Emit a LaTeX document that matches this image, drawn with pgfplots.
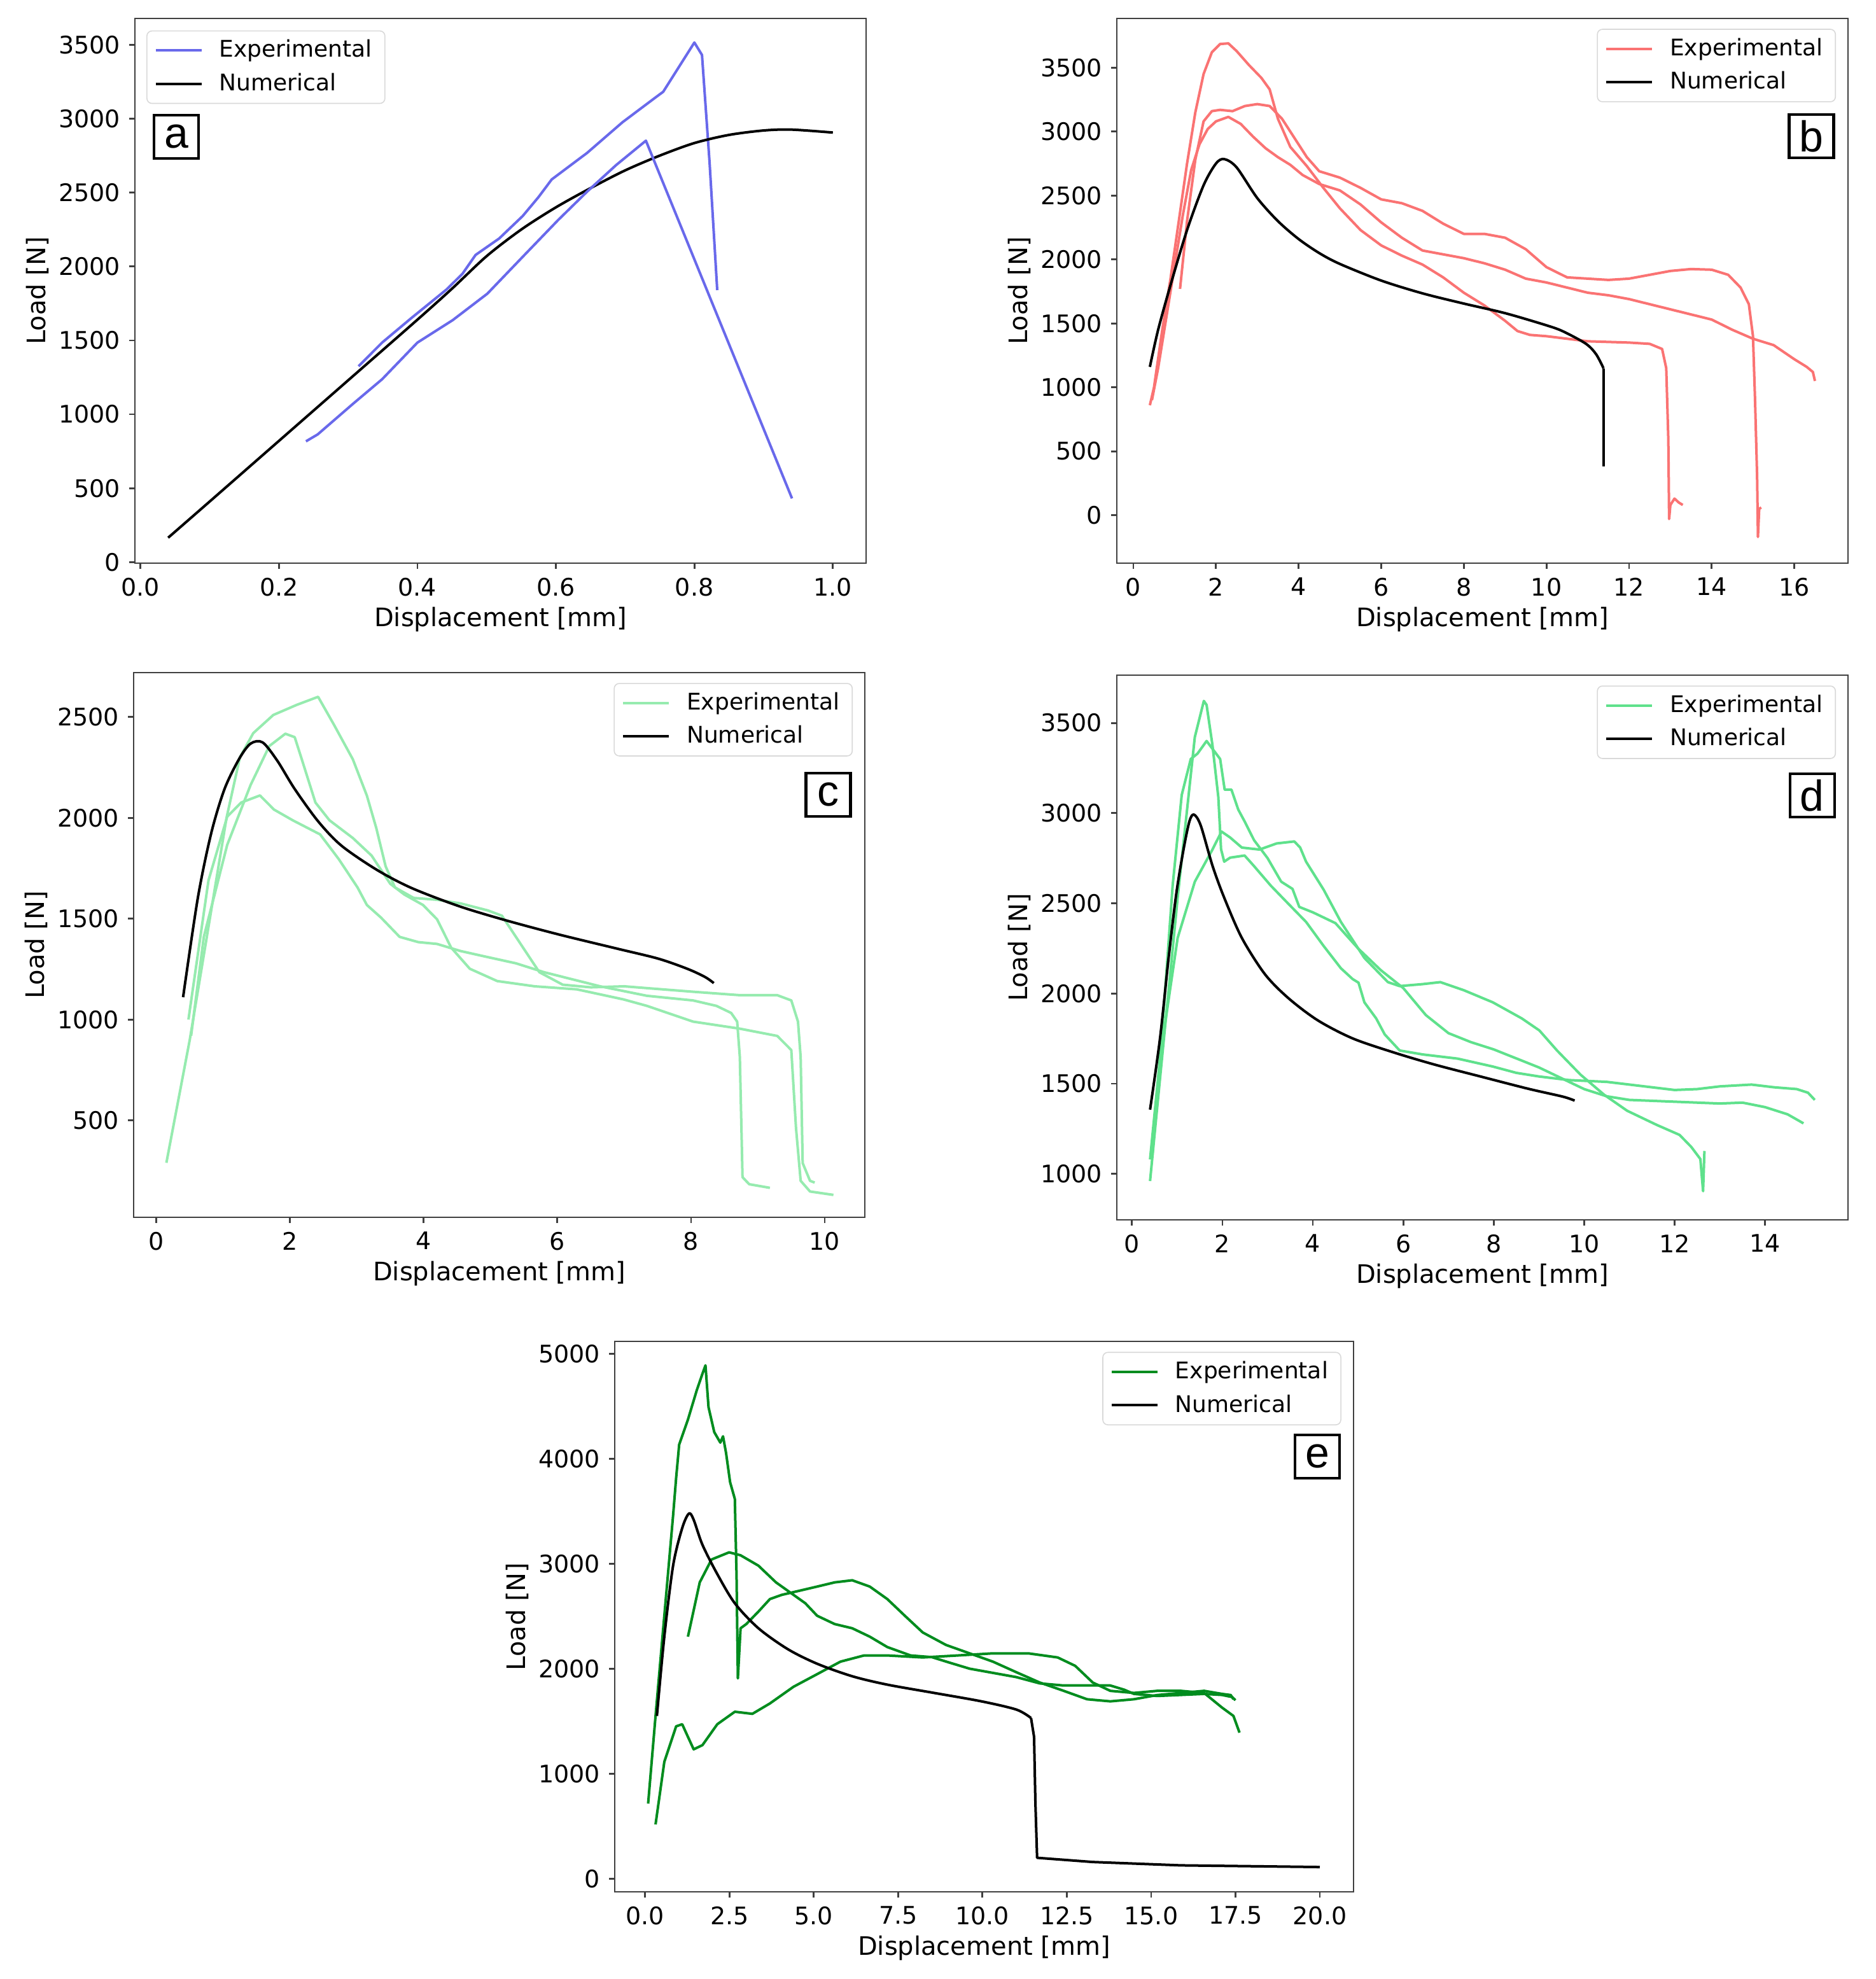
\documentclass[border=0pt]{standalone}
\usepackage{fontspec}
\setmainfont{DejaVu Sans}
\newfontfamily\labelfont{Liberation Sans}
\usepackage{pgfplots}
\pgfplotsset{compat=1.18}
\definecolor{cA}{RGB}{105,105,235}
\definecolor{cB}{RGB}{250,115,115}
\definecolor{cC}{RGB}{150,235,175}
\definecolor{cD}{RGB}{95,225,140}
\definecolor{cE}{RGB}{0,140,30}
\pgfplotsset{
  panel/.style={
    scale only axis, width=287.25pt, height=214pt,
    axis line style={black!75, line width=0.7pt},
    every tick/.style={black!75, line width=0.7pt},
    tick align=outside, major tick length=2.2pt,
    xtick pos=left, ytick pos=left,
    ticklabel style={font=\fontsize{9.5}{11}\selectfont},
    label style={font=\fontsize{10}{12}\selectfont},
    xlabel={Displacement [mm]}, ylabel={Load [N]},
    ylabel shift=-3pt, xlabel shift=-2.5pt,
    /pgf/number format/assume math mode=true,
    /pgf/number format/1000 sep={},
    legend cell align=left,
    legend style={draw=black!15, rounded corners=2pt, fill=white, fill opacity=0.8, text opacity=1,
      font=\fontsize{9}{10}\selectfont, inner xsep=3pt, inner ysep=1.5pt, row sep=0.8pt, column sep=4.5pt},
    legend image code/.code={\draw[##1] (0pt,0pt) -- (18pt,0pt);},
    every axis plot/.append style={line width=1pt, line join=round},
  },
  legNW/.style={legend style={at={(rel axis cs:0.0157,0.978)}, anchor=north west}},
  legNE/.style={legend style={at={(rel axis cs:0.9835,0.981)}, anchor=north east}},
}
\newcommand{\panellabel}[2]{\node[draw=black, line width=1.1pt, minimum width=17.5pt, minimum height=17pt, inner sep=0pt, font=\labelfont\fontsize{17}{17}\selectfont] at (rel axis cs:#1) {#2};}
\begin{document}
\begin{tikzpicture}
\path[use as bounding box] (0,0) rectangle (737pt,777.5pt);
% ---------------- a ----------------
\begin{axis}[panel, legNW, at={(53pt,556.25pt)}, anchor=south west,
  xmin=-0.008, xmax=1.048, ymin=-7, ymax=3678,
  xtick={0,0.2,0.4,0.6,0.8,1.0}, ytick={0,500,1000,1500,2000,2500,3000,3500},
  xticklabel style={/pgf/number format/.cd, fixed, fixed zerofill, precision=1}]
\addplot[cA] coordinates {(0.315,1325)(0.349,1485)(0.391,1650)(0.442,1844)(0.465,1950)(0.484,2078)(0.518,2189)(0.552,2341)(0.575,2470)(0.594,2589)(0.645,2768)(0.696,2975)(0.74,3130)(0.755,3182)(0.80,3515)(0.811,3431)(0.822,2700)(0.833,1840)};
\addlegendentry{Experimental}
\addplot[black, forget plot, smooth, tension=0.5] coordinates {(0.04,165)(0.1,410)(0.2,820)(0.3,1230)(0.4,1640)(0.45,1850)(0.5,2070)(0.55,2250)(0.6,2400)(0.65,2530)(0.7,2650)(0.75,2750)(0.8,2835)(0.85,2890)(0.9,2920)(0.94,2926)(1.0,2906)};
\addplot[cA, forget plot] coordinates {(0.239,817)(0.256,864)(0.307,1071)(0.349,1237)(0.40,1485)(0.451,1637)(0.501,1816)(0.552,2065)(0.603,2313)(0.645,2506)(0.687,2686)(0.73,2851)(0.941,431)};
\addlegendimage{black, line width=1pt}
\addlegendentry{Numerical}
\panellabel{0.0566,0.783}{a}
\end{axis}
% ---------------- b ----------------
\begin{axis}[panel, legNE, at={(438.75pt,556.25pt)}, anchor=south west,
  xmin=-0.4, xmax=17.3, ymin=-375, ymax=3885,
  xtick={0,2,...,16}, ytick={0,500,1000,1500,2000,2500,3000,3500}]
\addplot[cB] coordinates {(0.4,860)(0.5,1000)(0.7,1450)(0.9,1850)(1.1,2300)(1.3,2750)(1.5,3150)(1.7,3450)(1.9,3620)(2.1,3685)(2.3,3690)(2.5,3630)(2.8,3520)(3.1,3420)(3.3,3330)(3.5,3100)(3.8,2880)(4.2,2730)(4.6,2560)(5.0,2400)(5.5,2230)(6.0,2110)(6.5,2030)(7.0,1960)(7.5,1860)(8.0,1740)(8.5,1640)(9.0,1520)(9.3,1440)(9.6,1410)(10,1400)(10.5,1380)(11,1360)(11.5,1355)(12,1350)(12.5,1340)(12.8,1300)(12.9,1150)(12.95,600)(12.97,-30)(13.0,80)(13.1,130)(13.2,100)(13.3,80)};
\addlegendentry{Experimental}
\addplot[cB, forget plot] coordinates {(1.13,1770)(1.3,2300)(1.5,2780)(1.7,3080)(1.9,3160)(2.1,3170)(2.4,3160)(2.7,3200)(3.0,3215)(3.3,3200)(3.6,3100)(3.9,2950)(4.2,2800)(4.5,2690)(5.0,2640)(5.5,2560)(6.0,2470)(6.5,2440)(7.0,2380)(7.5,2280)(8.0,2200)(8.5,2200)(9.0,2170)(9.5,2080)(10.0,1940)(10.5,1860)(11.0,1850)(11.5,1840)(12.0,1850)(12.5,1880)(13.0,1910)(13.5,1925)(14.0,1920)(14.4,1880)(14.7,1780)(14.9,1650)(15.0,1400)(15.05,900)(15.1,300)(15.12,-170)(15.15,50)(15.2,60)};
\addplot[cB, forget plot] coordinates {(0.45,900)(0.6,1150)(0.8,1550)(1.0,1950)(1.2,2350)(1.4,2700)(1.6,2900)(1.8,3020)(2.0,3080)(2.3,3115)(2.6,3060)(2.9,2960)(3.2,2870)(3.5,2800)(3.8,2740)(4.1,2660)(4.5,2590)(5.0,2540)(5.5,2430)(6.0,2290)(6.5,2170)(7.0,2070)(7.5,2040)(8.0,2010)(8.5,1970)(9.0,1920)(9.5,1850)(10,1820)(10.5,1780)(11,1740)(11.5,1720)(12,1690)(12.5,1650)(13,1610)(13.5,1570)(14,1530)(14.5,1450)(15,1380)(15.5,1330)(16,1220)(16.3,1160)(16.45,1120)(16.5,1050)};
\addplot[black, forget plot, smooth, tension=0.5] coordinates {(0.4,1160)(0.6,1450)(0.9,1800)(1.3,2230)(1.7,2580)(2.0,2750)(2.2,2785)(2.5,2720)(3.0,2480)(3.5,2300)(4.0,2160)(4.5,2050)(5.0,1965)(6,1835)(7,1735)(8,1655)(9,1580)(10,1485)(10.4,1438)(10.95,1342)(11.2,1260)(11.38,1150)};
\addplot[black, forget plot] coordinates {(11.38,1150)(11.38,380)};
\addlegendimage{black, line width=1pt}
\addlegendentry{Numerical}
\panellabel{0.950,0.784}{b}
\end{axis}
% ---------------- c ----------------
\begin{axis}[panel, legNE, at={(52.5pt,299.25pt)}, anchor=south west,
  xmin=-0.34, xmax=10.6, ymin=20, ymax=2720,
  xtick={0,2,...,10}, ytick={500,1000,1500,2000,2500}]
\addplot[cC] coordinates {(0.15,290)(0.5,900)(0.8,1500)(1.05,2000)(1.25,2300)(1.45,2420)(1.75,2510)(2.1,2560)(2.42,2600)(2.66,2460)(2.94,2290)(3.15,2110)(3.29,1950)(3.43,1760)(3.57,1655)(3.85,1603)(4.2,1594)(4.55,1576)(4.96,1541)(5.17,1515)(5.45,1375)(5.73,1235)(6.08,1173)(6.5,1160)(7.0,1165)(7.34,1156)(8.03,1138)(8.73,1121)(9.29,1121)(9.5,1095)(9.6,990)(9.64,814)(9.67,289)(9.78,201)(9.85,192)};
\addlegendentry{Experimental}
\addplot[cC, forget plot] coordinates {(0.52,920)(0.71,1410)(1.06,1866)(1.41,2163)(1.69,2356)(1.93,2417)(2.07,2400)(2.18,2286)(2.38,2076)(2.59,1988)(2.94,1900)(3.22,1813)(3.5,1673)(3.71,1620)(3.99,1568)(4.2,1497)(4.41,1357)(4.69,1252)(5.1,1191)(5.66,1165)(6.29,1150)(6.99,1100)(7.34,1068)(8.03,990)(8.73,955)(9.29,919)(9.5,849)(9.57,464)(9.64,201)(9.78,148)(10.13,131)};
\addplot[cC, forget plot] coordinates {(0.48,1000)(0.78,1690)(1.06,2006)(1.27,2076)(1.55,2111)(1.76,2041)(2.04,1988)(2.45,1918)(2.73,1795)(3.01,1655)(3.15,1568)(3.36,1506)(3.64,1410)(3.92,1384)(4.2,1375)(4.55,1340)(4.9,1314)(5.38,1279)(5.8,1235)(6.22,1200)(6.64,1165)(7.34,1118)(8.03,1095)(8.38,1068)(8.6,1033)(8.69,990)(8.73,814)(8.77,219)(8.87,184)(9.18,166)};
\addplot[black, forget plot, smooth, tension=0.5] coordinates {(0.40,1111)(0.62,1602)(0.82,1923)(1.02,2143)(1.24,2293)(1.41,2368)(1.59,2374)(1.81,2283)(2.07,2143)(2.42,1983)(2.77,1862)(3.30,1742)(3.82,1652)(4.53,1562)(5.23,1492)(6.02,1422)(6.89,1352)(7.51,1302)(7.95,1251)(8.21,1211)(8.34,1181)};
\addlegendimage{black, line width=1pt}
\addlegendentry{Numerical}
\panellabel{0.950,0.776}{c}
\end{axis}
% ---------------- d ----------------
\begin{axis}[panel, legNE, at={(438.75pt,298.25pt)}, anchor=south west,
  xmin=-0.335, xmax=15.835, ymin=745, ymax=3765,
  xtick={0,2,...,14}, ytick={1000,1500,2000,2500,3000,3500}]
\addplot[cD] coordinates {(0.4,960)(0.49,1194)(0.75,1862)(1.01,2531)(1.2,2976)(1.39,3422)(1.59,3622)(1.65,3600)(1.78,3377)(1.91,3088)(1.97,2800)(2.04,2731)(2.17,2753)(2.49,2765)(2.69,2709)(3.07,2598)(3.46,2497)(3.85,2397)(4.24,2263)(4.62,2140)(4.88,2080)(5.01,2060)(5.14,1951)(5.4,1862)(5.59,1773)(5.92,1684)(6.43,1662)(7.2,1639)(7.98,1595)(8.5,1560)(9,1540)(9.66,1520)(10.5,1510)(11.5,1480)(12,1465)(12.5,1470)(13,1485)(13.7,1495)(14.2,1480)(14.7,1470)(14.95,1450)(15.1,1410)};
\addlegendentry{Experimental}
\addplot[cD, forget plot] coordinates {(0.45,1100)(0.7,1900)(0.9,2600)(1.1,3100)(1.3,3300)(1.45,3330)(1.65,3400)(1.8,3350)(1.95,3300)(2.05,3130)(2.2,3130)(2.35,3020)(2.5,2950)(2.7,2850)(3.0,2750)(3.3,2620)(3.55,2580)(3.7,2480)(4.0,2450)(4.5,2390)(5.0,2250)(5.5,2130)(6.0,2030)(6.5,1880)(7.0,1780)(7.5,1730)(8.0,1690)(8.5,1640)(9,1590)(9.5,1530)(10,1470)(10.5,1430)(11,1410)(12,1400)(13,1390)(13.5,1395)(14,1370)(14.5,1330)(14.85,1280)};
\addplot[cD, forget plot] coordinates {(0.4,1080)(0.62,1640)(1.01,2308)(1.39,2620)(1.78,2798)(1.98,2898)(2.17,2865)(2.43,2809)(2.82,2798)(3.2,2832)(3.59,2843)(3.72,2809)(3.85,2731)(4.24,2575)(4.62,2397)(5.14,2197)(5.66,2063)(5.92,2041)(6.43,2052)(6.82,2063)(7.34,2018)(7.98,1951)(8.62,1862)(9.01,1795)(9.4,1684)(9.92,1550)(10.44,1439)(10.95,1350)(11.6,1272)(12.11,1216)(12.37,1149)(12.57,1082)(12.63,904)(12.66,1127)};
\addplot[black, forget plot, smooth, tension=0.5] coordinates {(0.40,1356)(0.62,1751)(0.81,2197)(0.98,2553)(1.14,2798)(1.27,2954)(1.37,2992)(1.52,2932)(1.78,2709)(2.04,2531)(2.43,2308)(2.94,2107)(3.46,1974)(4.11,1851)(4.88,1751)(5.79,1673)(6.69,1606)(7.72,1539)(8.76,1472)(9.53,1428)(9.79,1406)};
\addlegendimage{black, line width=1pt}
\addlegendentry{Numerical}
\panellabel{0.951,0.779}{d}
\end{axis}
% ---------------- e ----------------
\begin{axis}[panel, legNE, at={(241.5pt,34.25pt)}, anchor=south west, width=290.25pt, height=216.25pt,
  xmin=-0.9, xmax=21.0, ymin=-125, ymax=5117,
  xtick={0,2.5,5,7.5,10,12.5,15,17.5,20}, ytick={0,1000,2000,3000,4000,5000},
  xticklabel style={/pgf/number format/.cd, fixed, fixed zerofill, precision=1}]
\addplot[cE] coordinates {(0.09,715)(0.31,1550)(0.57,2504)(0.83,3458)(0.92,3816)(1.01,4134)(1.27,4372)(1.53,4650)(1.70,4809)(1.79,4889)(1.88,4491)(2.05,4253)(2.23,4153)(2.31,4213)(2.4,4054)(2.52,3776)(2.66,3617)(2.71,2901)(2.75,1908)(2.83,2385)(3.0,2425)(3.36,2544)(3.70,2663)(4.05,2703)(4.57,2742)(5.1,2782)(5.62,2822)(6.14,2842)(6.66,2782)(7.18,2663)(7.7,2504)(8.23,2345)(8.92,2226)(9.62,2146)(10.31,2067)(11.0,1967)(11.7,1868)(12.4,1790)(13.1,1709)(13.79,1689)(14.49,1709)(15.18,1749)(15.88,1769)(16.57,1789)(17.1,1760)(17.36,1749)(17.44,1709)};
\addlegendentry{Experimental}
\addplot[cE, forget plot] coordinates {(1.27,2305)(1.62,2822)(1.97,3040)(2.49,3108)(2.83,3080)(3.36,2981)(3.88,2822)(4.40,2703)(4.75,2623)(5.1,2504)(5.62,2425)(6.14,2385)(6.66,2305)(7.18,2206)(7.87,2126)(8.5,2110)(9.0,2060)(9.62,2000)(10.31,1960)(11.0,1920)(11.7,1860)(12.4,1840)(13.1,1840)(13.79,1840)(14.2,1800)(14.49,1760)(15.18,1740)(15.88,1750)(16.57,1760)(17.1,1750)(17.4,1730)(17.5,1700)};
\addplot[cE, forget plot] coordinates {(0.31,517)(0.57,1113)(0.92,1451)(1.10,1471)(1.27,1351)(1.44,1232)(1.70,1272)(2.14,1471)(2.66,1590)(3.18,1570)(3.70,1669)(4.40,1828)(5.1,1948)(5.79,2067)(6.49,2126)(7.18,2126)(8.23,2107)(9.27,2126)(10.31,2146)(11.36,2146)(12.23,2107)(12.75,2027)(13.27,1868)(13.79,1789)(14.49,1769)(15.18,1789)(15.88,1789)(16.57,1769)(17.1,1630)(17.44,1550)(17.62,1391)};
\addplot[black, forget plot, smooth, tension=0.5] coordinates {(0.35,1550)(0.57,2305)(0.83,2981)(1.10,3339)(1.30,3478)(1.44,3418)(1.70,3180)(2.14,2901)(2.66,2623)(3.36,2385)(4.23,2186)(5.10,2047)(6.14,1928)(7.18,1848)(8.57,1769)(9.97,1689)(11.01,1610)(11.44,1530)};
\addplot[black, forget plot] coordinates {(11.44,1530)(11.53,1351)(11.57,715)(11.62,199)(13.27,159)(15.88,127)(20.0,111)};
\addlegendimage{black, line width=1pt}
\addlegendentry{Numerical}
\panellabel{0.951,0.791}{e}
\end{axis}
\end{tikzpicture}
\end{document}
